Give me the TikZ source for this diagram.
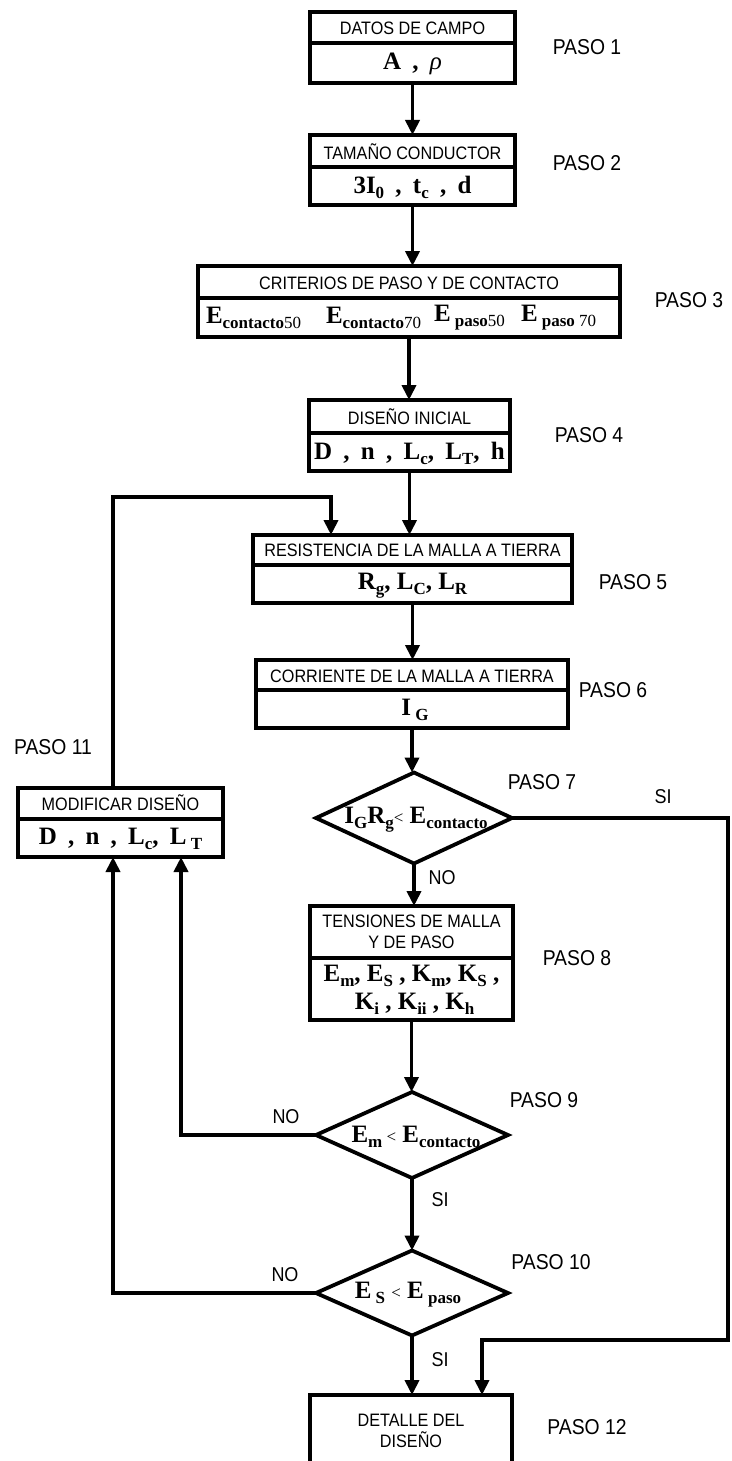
\documentclass[tikz,border=0pt]{standalone}
\usepackage{fontspec}
\setmainfont{Liberation Serif}
\newfontfamily\arin[FakeStretch=0.9]{Liberation Sans}
\usetikzlibrary{arrows.meta,shapes.geometric}
\newcommand\sbs[1]{\raisebox{-0.2em}{\fontsize{17}{17}\selectfont\bfseries #1}}
\newcommand\sbn[1]{\raisebox{-0.2em}{\fontsize{17}{17}\selectfont\mdseries #1}}
\newcommand\lt{{\fontsize{17}{17}\selectfont\mdseries<}}
\newcommand\gap{\hspace{0.45em}}
\begin{document}
\begin{tikzpicture}[x=1pt,y=-1pt,
  every node/.style={inner sep=0pt,outer sep=0pt},
  blk/.style={draw,line width=3.8pt,rectangle},
  dia/.style={draw,line width=3.8pt,diamond,inner sep=0pt},
  ln/.style={line width=3.8pt},
  arr/.style={line width=3.8pt,-{Triangle[length=15pt,width=14pt]}},
  hdr/.style={font=\arin\fontsize{18}{21}\selectfont,align=center},
  frm/.style={font=\fontsize{25}{28}\selectfont\bfseries,align=center},
  paso/.style={font=\arin\fontsize{21.5}{24}\selectfont},
  lbl/.style={font=\arin\fontsize{20}{22}\selectfont}]
\useasboundingbox (0,0) rectangle (731,1461);
\clip (0,0) rectangle (731,1461);

% boxes
\node[blk,minimum width=205pt,minimum height=71pt] (b1) at (412.5,47.5) {};
\node[blk,minimum width=205pt,minimum height=70pt] (b2) at (412.5,170) {};
\node[blk,minimum width=422pt,minimum height=71pt] (b3) at (409,301.5) {};
\node[blk,minimum width=201pt,minimum height=71pt] (b4) at (409.5,435.5) {};
\node[blk,minimum width=319pt,minimum height=68pt] (b5) at (412.5,569) {};
\node[blk,minimum width=312pt,minimum height=68pt] (b6) at (412,694) {};
\node[blk,minimum width=203pt,minimum height=114pt] (b8) at (411.5,963) {};
\node[blk,minimum width=205pt,minimum height=69pt] (b11) at (120.5,822.5) {};
\node[blk,minimum width=202pt,minimum height=90pt] (b12) at (411,1440) {};

% dividers
\draw[ln] (b1.west |- 0,43) -- (b1.east |- 0,43);
\draw[ln] (b2.west |- 0,167) -- (b2.east |- 0,167);
\draw[ln] (b3.west |- 0,298) -- (b3.east |- 0,298);
\draw[ln] (b4.west |- 0,433) -- (b4.east |- 0,433);
\draw[ln] (b5.west |- 0,565) -- (b5.east |- 0,565);
\draw[ln] (b6.west |- 0,690) -- (b6.east |- 0,690);
\draw[ln] (b8.west |- 0,958) -- (b8.east |- 0,958);
\draw[ln] (b11.west |- 0,819) -- (b11.east |- 0,819);

% diamonds
\node[dia,minimum width=196pt,minimum height=91pt] (d7) at (414,818) {};
\node[dia,minimum width=192pt,minimum height=86pt] (d9) at (412,1135) {};
\node[dia,minimum width=192pt,minimum height=85pt] (d10) at (412,1293) {};

% box texts
\node[hdr] (h1) at (412.5,28) {DATOS DE CAMPO};
\node[frm] (f1) at (412.5,64) {A\gap,\gap\textit{\mdseries ρ}};
\node[hdr] (h2) at (412.5,152) {TAMAÑO CONDUCTOR};
\node[frm] (f2) at (412.5,187) {3I\sbs{0}\gap,\gap t\sbs{c}\gap,\gap d};
\node[hdr] (h3) at (409,283) {CRITERIOS DE PASO Y DE CONTACTO};
\node[frm,anchor=west] (f3a) at (206,318) {E\sbs{contacto}\sbn{50}};
\node[frm,anchor=west] (f3b) at (326,318) {E\sbs{contacto}\sbn{70}};
\node[frm,anchor=west] (f3c) at (434,318) {E\,\sbs{paso}\sbn{50}};
\node[frm,anchor=west] (f3d) at (521,318) {E\,\sbs{paso}\,\sbn{70}};
\node[hdr] (h4) at (409.5,417) {DISEÑO INICIAL};
\node[frm] (f4) at (409.5,453) {D\gap,\gap n\gap,\gap L\sbs{c},\gap L\sbs{T},\gap h};
\node[hdr] (h5) at (412.5,550) {RESISTENCIA DE LA MALLA A TIERRA};
\node[frm] (f5) at (412.5,586) {R\sbs{g}, L\sbs{C}, L\sbs{R}};
\node[hdr] (h6) at (412,676) {CORRIENTE DE LA MALLA A TIERRA};
\node[frm] (f6) at (415,710) {I\,\sbs{G}};
\node[hdr] (h8) at (411.5,932) {TENSIONES DE MALLA\\Y DE PASO};
\node[frm] (f8) at (411.5,990) {E\sbs{m}, E\sbs{S} , K\sbs{m}, K\sbs{S} ,\\ \ K\sbs{i} , K\sbs{ii} , K\sbs{h}};
\node[hdr] (h11) at (120.5,803) {MODIFICAR DISEÑO};
\node[frm] (f11) at (120.5,839) {D\gap,\gap n\gap,\gap L\sbs{c},\gap L\,\sbs{T}};
\node[hdr] (h12) at (411,1431) {DETALLE DEL\\DISEÑO};

% diamond texts
\node[frm] (t7) at (416,820) {I\sbs{G}R\sbs{g}\lt\ E\sbs{contacto}};
\node[frm] (t9) at (416,1137) {E\sbs{m}\,\lt\ E\sbs{contacto}};
\node[frm] (t10) at (408,1295) {E\,\sbs{S}\ \lt\ E\,\sbs{paso}};

% paso labels
\node[paso] (p1) at (587,47) {PASO 1};
\node[paso] (p2) at (587,163) {PASO 2};
\node[paso] (p3) at (689,300) {PASO 3};
\node[paso] (p4) at (589,435) {PASO 4};
\node[paso] (p5) at (633,582) {PASO 5};
\node[paso] (p6) at (613,690) {PASO 6};
\node[paso] (p7) at (542,782) {PASO 7};
\node[paso] (p8) at (577,958) {PASO 8};
\node[paso] (p9) at (544,1100) {PASO 9};
\node[paso] (p10) at (551,1262) {PASO 10};
\node[paso] (p11) at (53,747) {PASO 11};
\node[paso] (p12) at (587,1427) {PASO 12};

% yes/no labels
\node[lbl] (no7) at (442,878) {NO};
\node[lbl] (si7) at (663,797) {SI};
\node[lbl] (no9) at (286,1117) {NO};
\node[lbl] (si9) at (440,1200) {SI};
\node[lbl] (no10) at (285,1275) {NO};
\node[lbl] (si10) at (440,1360) {SI};

% connectors
\draw[arr] (b1.south) -- (b1.south |- b2.north);
\draw[arr] (b2.south) -- (b2.south |- b3.north);
\draw[arr] (b3.south) -- (b3.south |- b4.north);
\draw[arr] (b4.south) -- (b4.south |- b5.north);
\draw[arr] (b5.south) -- (b5.south |- b6.north);
\draw[arr] (b6.south) -- (b6.south |- d7.north);
\draw[arr] (d7.south) -- (d7.south |- b8.north);
\draw[arr] (b8.south) -- (b8.south |- d9.north);
\draw[arr] (d9.south) -- (d9.south |- d10.north);
\draw[arr] (d10.south) -- (d10.south |- b12.north);

\coordinate (r1) at (728,1340);
\coordinate (r2) at (482,1340);
\draw[arr] (d7.east) -| (r1) -- (r2) -- (r2 |- b12.north);

\coordinate (l2) at (181,0);
\draw[arr] (d9.west) -- (d9.west -| l2) -- (l2 |- b11.south);
\coordinate (l1) at (113,0);
\draw[arr] (d10.west) -- (d10.west -| l1) -- (l1 |- b11.south);

\coordinate (t1) at (113,497);
\coordinate (t2) at (331,497);
\draw[arr] (t1 |- b11.north) -- (t1) -- (t2) -- (t2 |- b5.north);
\end{tikzpicture}
\end{document}
